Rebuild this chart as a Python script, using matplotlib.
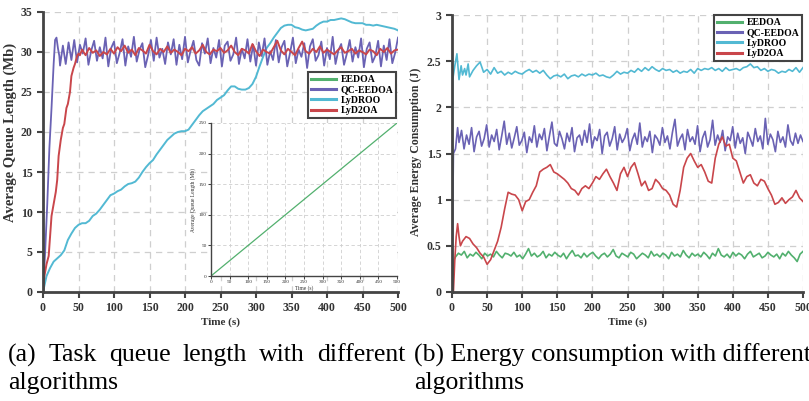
import numpy as np
import matplotlib
matplotlib.use("Agg")
import matplotlib.pyplot as plt
from matplotlib.lines import Line2D

plt.rcParams['font.family'] = ['Liberation Serif', 'DejaVu Serif']

# ---------------- data: panel (a) queue length ----------------
qc_q_rise_t = [0, 3, 6, 9, 12, 15, 17, 19, 21, 23]
qc_q_rise = [0, 5, 11, 18, 23, 28.5, 31.5, 31.8, 30.5, 29.5]
qc_q_noise = [28.3, 30.8, 28.5, 31.2, 29.0, 31.5, 28.7, 30.9, 29.8, 31.7, 28.4, 30.2, 31.4, 28.9, 30.6, 29.2,
              31.8, 28.2, 30.5, 31.3, 28.6, 29.9, 31.6, 28.3, 30.7, 29.4, 31.9, 28.8, 30.3, 31.1, 28.1, 29.6,
              31.5, 28.9, 31.8, 29.3, 30.4, 28.5, 31.2, 29.7, 31.6, 28.4, 30.9, 29.1, 31.9, 28.7, 30.2, 31.4,
              29.0, 28.3, 31.1, 29.8, 31.7, 28.6, 30.5, 29.3, 31.5, 28.2, 30.8, 31.3, 28.9, 29.7, 31.8, 28.5,
              30.4, 29.2, 31.6, 28.8, 30.9, 28.3, 31.2, 29.5, 31.7, 28.4, 30.1, 29.0, 31.5, 28.7, 30.6, 31.4,
              28.2, 29.9, 31.8, 28.6, 30.3, 29.4, 31.1, 28.0, 30.7, 31.6, 28.9, 29.6, 31.3, 28.3, 30.5, 29.1,
              31.9, 28.5, 30.2, 31.0, 28.4, 29.8, 31.5, 28.8, 30.6, 29.3, 31.7, 28.1, 30.4, 31.2, 28.7, 29.5,
              31.4, 28.2, 30.8, 29.0, 31.6, 28.6, 29.9, 31.8]

lyd2_q_rise_t = [0, 2, 5, 8, 10, 12, 15, 18, 20, 22, 25, 28, 30, 33, 35, 38, 40, 43, 45, 48, 50, 52]
lyd2_q_rise = [0, 2, 3.5, 4.5, 7, 9.5, 11, 12.5, 14, 17, 19, 20.5, 21, 23, 23.5, 25, 27, 28, 28.5, 29.5, 29.8, 29.6]
lyd2_q_noise = [30.3, 29.6, 30.5, 29.9, 30.2, 29.5, 30.0, 29.7, 30.4, 29.8, 30.6, 30.1, 30.8, 29.9, 30.3, 29.6,
                30.5, 30.2, 29.8, 30.9, 30.1, 29.7, 30.4, 30.0, 30.7, 29.9, 30.3, 30.0, 29.6, 30.4, 30.1, 30.6,
                29.8, 30.2, 30.9, 30.0, 29.7, 30.3, 30.1, 30.5, 29.9, 30.2, 30.8, 30.0, 29.6, 30.4, 30.2, 29.8,
                31.0, 30.1, 29.5, 30.3, 30.0, 29.8, 30.6, 31.4, 30.2, 29.7, 30.4, 30.0, 29.6, 30.5, 31.3, 30.1,
                29.8, 30.4, 30.0, 30.7, 29.9, 30.3, 30.0, 29.7, 30.2, 30.6, 29.9, 30.1, 30.4, 29.8, 30.2, 30.0,
                29.7, 30.3, 30.1, 29.6, 30.4, 30.0, 30.5, 29.8, 30.2, 30.3]

lydroo_q_t = [0, 5, 10, 15, 20, 25, 30, 35, 40, 45, 50, 55, 60, 65, 70, 75, 80, 85, 90, 95, 100, 105, 110, 115,
              120, 125, 130, 135, 140, 145, 150, 155, 160, 165, 170, 175, 180, 185, 190, 195, 200, 205, 210, 215,
              220, 225, 230, 235, 240, 245, 250, 255, 260, 265, 270, 275, 280, 285, 290, 295, 300, 305, 310, 315,
              320, 325, 330, 335, 340, 345, 350, 355, 360, 365, 370, 375, 380, 385, 390, 395, 400, 405, 410, 415,
              420, 425, 430, 435, 440, 445, 450, 455, 460, 465, 470, 475, 480, 485, 490, 495, 500]
lydroo_q = [0, 2, 3, 3.8, 4.2, 4.6, 5.2, 6.5, 7.3, 8, 8.4, 8.6, 8.6, 8.9, 9.5, 9.8, 10.3, 10.9, 11.5, 12.1,
            12.3, 12.6, 12.8, 13.2, 13.5, 13.6, 13.8, 14.3, 15, 15.6, 16.1, 16.5, 17.2, 17.8, 18.4, 19, 19.4,
            19.8, 20, 20.1, 20.1, 20.3, 20.9, 21.5, 22.1, 22.6, 22.9, 23.2, 23.5, 24, 24.3, 24.6, 25.2, 25.7,
            25.7, 25.4, 25.3, 25.3, 25.5, 26, 26.9, 28.2, 29.4, 30.5, 31.1, 31.8, 32.4, 33, 33.3, 33.4, 33.4,
            33.1, 33.0, 32.8, 32.7, 32.8, 32.9, 33.3, 33.6, 33.8, 33.8, 34.0, 34.0, 34.1, 34.2, 34.1, 33.9, 33.7,
            33.6, 33.6, 33.6, 33.4, 33.4, 33.3, 33.4, 33.3, 33.2, 33.1, 33.0, 32.9, 32.7]

eedoa_inset_t = [0, 100, 200, 300, 400, 500]
eedoa_inset_q = [0, 50, 100, 150, 200, 250]

# ---------------- data: panel (b) energy ----------------
eedoa_e_rise_t = [0, 3]
eedoa_e_rise = [0, 0.35]
eedoa_e_noise = [0.38, 0.42, 0.40, 0.44, 0.37, 0.41, 0.39, 0.43, 0.40, 0.36, 0.42, 0.39, 0.41, 0.38, 0.44, 0.40,
                 0.37, 0.42, 0.41, 0.39, 0.43, 0.38, 0.40, 0.36, 0.41, 0.47, 0.39, 0.42, 0.38, 0.40, 0.44, 0.37,
                 0.41, 0.39, 0.43, 0.40, 0.38, 0.42, 0.36, 0.41, 0.45, 0.39, 0.40, 0.37, 0.42, 0.38, 0.41, 0.43,
                 0.39, 0.36, 0.40, 0.42, 0.38, 0.41, 0.46, 0.39, 0.37, 0.42, 0.40, 0.38, 0.43, 0.41, 0.36, 0.39,
                 0.42, 0.40, 0.37, 0.44, 0.39, 0.41, 0.38, 0.42, 0.40, 0.36, 0.43, 0.39, 0.41, 0.38, 0.45, 0.40,
                 0.37, 0.42, 0.39, 0.41, 0.38, 0.43, 0.40, 0.36, 0.42, 0.39, 0.47, 0.40, 0.38, 0.41, 0.37, 0.43,
                 0.39, 0.42, 0.40, 0.36, 0.41, 0.44, 0.38, 0.40, 0.42, 0.37, 0.39, 0.43, 0.40, 0.38, 0.41, 0.36,
                 0.42, 0.39, 0.44, 0.40, 0.37, 0.33, 0.41, 0.44]

qc_e_rise_t = [0, 2, 5, 8]
qc_e_rise = [0, 1.5, 1.55, 1.78]
qc_e_noise = [1.62, 1.75, 1.55, 1.70, 1.60, 1.78, 1.52, 1.68, 1.74, 1.58, 1.66, 1.81, 1.57, 1.70, 1.63, 1.76,
              1.54, 1.69, 1.85, 1.60, 1.72, 1.56, 1.67, 1.79, 1.59, 1.64, 1.73, 1.51, 1.68, 1.62, 1.80, 1.57,
              1.71, 1.65, 1.77, 1.53, 1.69, 1.84, 1.61, 1.58, 1.74, 1.66, 1.55, 1.72, 1.63, 1.78, 1.52, 1.67,
              1.70, 1.59, 1.75, 1.62, 1.82, 1.56, 1.68, 1.64, 1.76, 1.50, 1.69, 1.73, 1.58, 1.66, 1.79, 1.54,
              1.71, 1.62, 1.67, 1.77, 1.53, 1.65, 1.72, 1.60, 1.83, 1.57, 1.68, 1.63, 1.74, 1.51, 1.70, 1.66,
              1.59, 1.78, 1.62, 1.69, 1.55, 1.73, 1.87, 1.58, 1.66, 1.71, 1.54, 1.76, 1.63, 1.68, 1.60, 1.80,
              1.52, 1.67, 1.74, 1.57, 1.65, 1.86, 1.59, 1.70, 1.62, 1.75, 1.53, 1.68, 1.64, 1.79, 1.56, 1.72,
              1.61, 1.67, 1.50, 1.73, 1.66, 1.58, 1.77, 1.63, 1.69, 1.55, 1.88, 1.60, 1.71, 1.65, 1.52, 1.74,
              1.62, 1.68, 1.57, 1.81, 1.64, 1.59, 1.72, 1.61, 1.70, 1.63]

lydroo_e_rise_t = [0, 1, 4, 7, 10, 13, 15, 18, 20, 23, 25]
lydroo_e_rise = [0, 2.3, 2.45, 2.58, 2.3, 2.45, 2.35, 2.42, 2.35, 2.47, 2.33]
lydroo_e_noise = [2.40, 2.45, 2.49, 2.38, 2.41, 2.36, 2.43, 2.37, 2.39, 2.35, 2.38, 2.36, 2.39, 2.37, 2.36, 2.39,
                  2.41, 2.38, 2.40, 2.37, 2.40, 2.35, 2.31, 2.34, 2.35, 2.33, 2.36, 2.31, 2.34, 2.35, 2.33, 2.36,
                  2.34, 2.36, 2.35, 2.37, 2.34, 2.35, 2.33, 2.32, 2.35, 2.39, 2.36, 2.38, 2.37, 2.40, 2.38, 2.42,
                  2.39, 2.43, 2.40, 2.44, 2.41, 2.39, 2.42, 2.40, 2.41, 2.38, 2.40, 2.37, 2.39, 2.38, 2.41, 2.37,
                  2.42, 2.40, 2.42, 2.41, 2.43, 2.40, 2.42, 2.39, 2.43, 2.40, 2.41, 2.42, 2.40, 2.43, 2.44, 2.47,
                  2.43, 2.44, 2.40, 2.42, 2.39, 2.41, 2.40, 2.37, 2.39, 2.38, 2.41, 2.39, 2.43, 2.38, 2.43]

lyd2_e_rise_t = [0, 2, 4, 6, 8, 10, 12, 15]
lyd2_e_rise = [0, 0, 0.35, 0.6, 0.74, 0.6, 0.5, 0.55]
lyd2_e_main = [0.6, 0.58, 0.52, 0.48, 0.42, 0.38, 0.3, 0.35, 0.45, 0.55, 0.7, 0.9, 1.08, 1.06, 1.05, 1.0, 0.88,
               0.98, 1.0, 1.08, 1.15, 1.3, 1.33, 1.35, 1.38, 1.3, 1.28, 1.25, 1.22, 1.18, 1.12, 1.1, 1.05, 1.12,
               1.15, 1.12, 1.18, 1.25, 1.22, 1.28, 1.33, 1.25, 1.18, 1.1, 1.28, 1.35, 1.25, 1.35, 1.4, 1.28, 1.15,
               1.2, 1.1, 1.12, 1.22, 1.18, 1.12, 1.1, 1.05, 0.95, 0.92, 1.1, 1.35, 1.45, 1.5, 1.42, 1.35, 1.38,
               1.3, 1.2, 1.18, 1.45, 1.6, 1.68, 1.58, 1.6, 1.45, 1.42, 1.3, 1.18, 1.25, 1.27, 1.18, 1.15, 1.22,
               1.2, 1.12, 1.05, 0.95, 0.97, 1.02, 0.96, 1.0, 1.03, 1.1, 1.02, 0.98]

labels = ['EEDOA', 'QC-EEDOA', 'LyDROO', 'LyD2OA']
colors = ['#52B06E', '#6A62B4', '#52B9D3', '#C9464B']


def series(rise_t, rise, t0, t1, noise):
    t = np.concatenate([rise_t, np.linspace(t0, t1, len(noise))])
    v = np.concatenate([rise, noise])
    return t, v


qc_q_t, qc_q = series(qc_q_rise_t, qc_q_rise, 24, 500, qc_q_noise)
lyd2_q_t, lyd2_q = series(lyd2_q_rise_t, lyd2_q_rise, 55, 500, lyd2_q_noise)
ee_e_t, ee_e = series(eedoa_e_rise_t, eedoa_e_rise, 5, 500, eedoa_e_noise)
qc_e_t, qc_e = series(qc_e_rise_t, qc_e_rise, 10, 500, qc_e_noise)
ly_e_t, ly_e = series(lydroo_e_rise_t, lydroo_e_rise, 30, 500, lydroo_e_noise)
l2_e_t, l2_e = series(lyd2_e_rise_t, lyd2_e_rise, 20, 500, lyd2_e_main)

W, H = 809, 401
fig = plt.figure(figsize=(W / 100, H / 100), dpi=100)

SPINE = '#444444'
TICKC = '#333333'
GRIDC = '#cfcfcf'


def style(ax, fs=8.5, lw=2.0, tl=4):
    for s in ['top', 'right']:
        ax.spines[s].set_visible(False)
    for s in ['left', 'bottom']:
        ax.spines[s].set_color(SPINE)
        ax.spines[s].set_linewidth(lw)
    ax.tick_params(direction='out', length=tl, width=lw * 0.75, color=SPINE,
                   labelsize=fs, labelcolor=TICKC)
    for lab in ax.get_xticklabels() + ax.get_yticklabels():
        lab.set_fontweight('bold')
    ax.grid(True, color=GRIDC, linestyle=(0, (5, 4)), linewidth=0.9)
    ax.set_axisbelow(True)


def px(x0, y0, x1, y1):
    return [x0 / W, 1 - y1 / H, (x1 - x0) / W, (y1 - y0) / H]


# ---------- panel (a) ----------
ax1 = fig.add_axes(px(43, 12, 398, 292))
ax1.plot(lydroo_q_t, lydroo_q, color=colors[2], lw=1.4)
ax1.plot(qc_q_t, qc_q, color=colors[1], lw=1.3)
ax1.plot(lyd2_q_t, lyd2_q, color=colors[3], lw=1.4)
ax1.set_xlim(0, 500)
ax1.set_ylim(0, 35)
ax1.set_xticks(np.arange(0, 501, 50))
ax1.set_yticks(np.arange(0, 36, 5))
style(ax1)
ax1.set_xlabel('Time (s)', fontsize=8, fontweight='bold', color=TICKC, labelpad=2)
ax1.set_ylabel('Average Queue Length (Mb)', fontsize=10.5, fontweight='bold', color=TICKC)
ax1.yaxis.set_label_coords((17 - 43) / 355, (292 - 132) / 280)

handles = [Line2D([], [], color=c, lw=2.2) for c in colors]
leg_kw = dict(fancybox=False, framealpha=1, edgecolor=SPINE, prop={'weight': 'bold', 'size': 7},
              handlelength=2.6, labelspacing=0.15, borderpad=0.3, handletextpad=0.4,
              borderaxespad=0, loc='upper right', bbox_transform=fig.transFigure)
leg1 = ax1.legend(handles, labels, bbox_to_anchor=(396 / W, 1 - 72 / H), **leg_kw)
leg1.get_frame().set_linewidth(1.5)

# inset
axi = fig.add_axes(px(211, 123, 397, 276))
axi.set_facecolor('white')
axi.plot(eedoa_inset_t, eedoa_inset_q, color=colors[0], lw=0.9)
axi.set_xlim(0, 500)
axi.set_ylim(0, 250)
axi.set_xticks(np.arange(0, 501, 50))
axi.set_yticks(np.arange(0, 251, 50))
style(axi, fs=3.8, lw=1.0, tl=2)
axi.grid(True, color=GRIDC, linestyle=(0, (4, 3)), linewidth=0.6)
axi.tick_params(pad=1)
for lab in axi.get_xticklabels() + axi.get_yticklabels():
    lab.set_fontweight('normal')
axi.set_xlabel('Time (s)', fontsize=4, color=TICKC, labelpad=1)
axi.set_ylabel('Average Queue Length (Mb)', fontsize=4, color=TICKC, labelpad=2)

# ---------- panel (b) ----------
ax2 = fig.add_axes(px(452, 15, 803, 292))
ax2.plot(ee_e_t, ee_e, color=colors[0], lw=1.2)
ax2.plot(qc_e_t, qc_e, color=colors[1], lw=1.2)
ax2.plot(ly_e_t, ly_e, color=colors[2], lw=1.2)
ax2.plot(l2_e_t, l2_e, color=colors[3], lw=1.2)
ax2.set_xlim(0, 500)
ax2.set_ylim(0, 3)
ax2.set_xticks(np.arange(0, 501, 50))
ax2.set_yticks([0, 0.5, 1, 1.5, 2, 2.5, 3])
ax2.set_yticklabels(['0', '0.5', '1', '1.5', '2', '2.5', '3'])
style(ax2)
ax2.set_xlabel('Time (s)', fontsize=8, fontweight='bold', color=TICKC, labelpad=2)
ax2.set_ylabel('Average Energy Consumption (J)', fontsize=8.5, fontweight='bold', color=TICKC)
ax2.yaxis.set_label_coords((422 - 452) / 351, (292 - 152) / 277)
leg2 = ax2.legend(handles, labels, bbox_to_anchor=(802 / W, 1 - 15 / H), **leg_kw)
leg2.get_frame().set_linewidth(1.5)

# ---------- captions ----------
CAP_FS = 18.5
cap_a1 = ['(a)', 'Task', 'queue', 'length', 'with', 'different']
fig.canvas.draw()
renderer = fig.canvas.get_renderer()
texts = [fig.text(0, 1 - 355 / H, w, fontsize=CAP_FS, va='center', ha='left', color='black')
         for w in cap_a1]
widths = [t.get_window_extent(renderer).width for t in texts]
x0, x1 = 8, 405
gap = (x1 - x0 - sum(widths)) / (len(widths) - 1)
x = x0
for t, w in zip(texts, widths):
    t.set_x(x / W)
    x += w + gap
fig.text(8 / W, 1 - 383 / H, 'algorithms', fontsize=CAP_FS, va='center', ha='left')
fig.text(414 / W, 1 - 355 / H, '(b) Energy consumption with different', fontsize=CAP_FS,
         va='center', ha='left')
fig.text(414 / W, 1 - 383 / H, 'algorithms', fontsize=CAP_FS, va='center', ha='left')

fig.savefig('out.png', dpi=100)
